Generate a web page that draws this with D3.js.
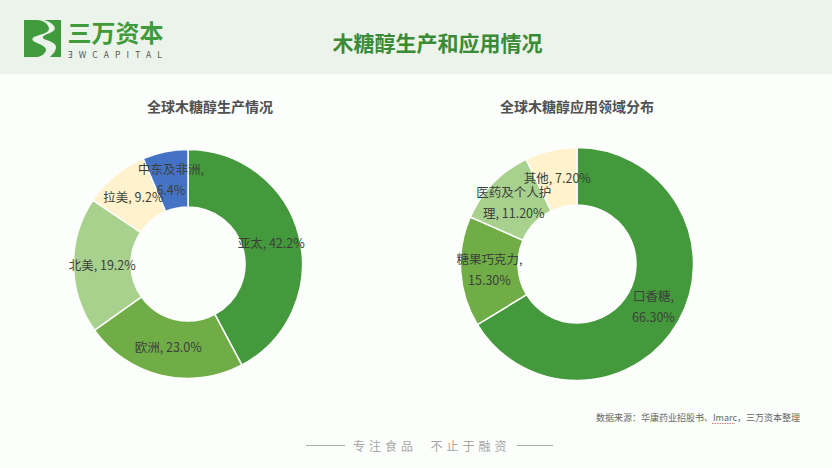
<!DOCTYPE html>
<html lang="zh">
<head>
    <meta charset="UTF-8">
    <title>木糖醇生产和应用情况</title>
    <style>
        html,body{margin:0;padding:0;background:#fcfefc;overflow:hidden;}
        text{font-family:"Noto Sans CJK SC","Noto Sans",sans-serif;}
        .label{fill:#3c423a;font-size:12.5px;text-anchor:middle;}
        .chartTitle{fill:#505050;font-size:14px;font-weight:700;text-anchor:middle;}
    </style>
    <script src="https://cdn.jsdelivr.net/npm/d3@7"></script>
</head>
<body>
    <script>
        // 全球木糖醇生产情况
        var prodNames = ["亚太","欧洲","北美","拉美","中东及非洲"];
        var prodValues = [42.2,23.0,19.2,9.2,6.4];
        var prodLabels = [["亚太, 42.2%"],["欧洲, 23.0%"],["北美, 19.2%"],["拉美, 9.2%"],["中东及非洲,","6.4%"]];
        var prodColors = ["#43993b","#70ad47","#a9d18e","#fff2cc","#4472c4"];

        // 全球木糖醇应用领域分布
        var useNames = ["口香糖","糖果巧克力","医药及个人护理","其他"];
        var useValues = [66.3,15.3,11.2,7.2];
        var useLabels = [["口香糖,","66.30%"],["糖果巧克力,","15.30%"],["医药及个人护","理, 11.20%"],["其他, 7.20%"]];
        var useColors = ["#43993b","#70ad47","#a9d18e","#fff2cc"];

        var width = 832;
        var height = 468;
        var svg = d3.select("body").append("svg")
                .attr("width",width)
                .attr("height",height)
                .style("display","block");

        // 顶部色带
        svg.append("rect").attr("width",width).attr("height",74).attr("fill","#ebf3ea");

        // logo
        var logo = svg.append("g").attr("fill","#3f9b3c");
        logo.append("path").attr("d","M24,20H37C43,20 49,24 49,29C49,33 41,34 34,37C31,39 32,41 37,43C42,45 46,47 46,50C46,53 41,57 37,57H24Z");
        logo.append("path").attr("d","M44,20H61V57H50C53,54 56,51 56,47C56,43 49,41 44,39C41,37 44,35 50,33C54,31 56,29 54,26C52,23 48,21 44,20Z");
        svg.append("text").attr("x",67.5).attr("y",42)
                .attr("fill","#3f9b3c").style("font-size","24px").style("font-weight",700)
                .text("三万资本");
        svg.append("text").attr("x",68).attr("y",57.5)
                .attr("fill","#555").style("font-size","8.5px").style("letter-spacing","6.1px")
                .text("ƎWCAPITAL");

        svg.append("text").attr("x",437.5).attr("y",51)
                .attr("fill","#3b8a35").attr("text-anchor","middle")
                .style("font-size","21px").style("font-weight",700)
                .text("木糖醇生产和应用情况");

        svg.append("text").attr("class","chartTitle").attr("x",210).attr("y",111.5).text("全球木糖醇生产情况");
        svg.append("text").attr("class","chartTitle").attr("x",577).attr("y",111.5).text("全球木糖醇应用领域分布");

        function drawDonut(cx,cy,outer,inner,values,labels,colors){
            var g = svg.append("g").attr("transform","translate("+cx+","+cy+")");
            var pie = d3.pie().sort(null).value(function(d){return d;});
            var arc = d3.arc().innerRadius(inner).outerRadius(outer);
            var arcs = pie(values);

            g.selectAll("path")
                .data(arcs)
                .enter()
                .append("path")
                .attr("d",arc)
                .attr("fill",function(d,i){return colors[i];})
                .attr("stroke","#fcfefc")
                .attr("stroke-width",1.5);

            // 标签放在扇区中心, 两行的上下分开
            var lineH = 21;
            g.selectAll(".label")
                .data(arcs)
                .enter()
                .append("text")
                .attr("class","label")
                .each(function(d,i){
                    var c = arc.centroid(d);
                    var lines = labels[i];
                    var t = d3.select(this);
                    lines.forEach(function(s,j){
                        t.append("tspan")
                            .attr("x",c[0])
                            .attr("y",c[1]+4.5+(j-(lines.length-1)/2)*lineH)
                            .text(s);
                    });
                });
        }

        drawDonut(188,264,114.5,57,prodValues,prodLabels,prodColors);
        drawDonut(577,264,116.5,59,useValues,useLabels,useColors);

        // 来源
        svg.append("text").attr("x",800).attr("y",421)
                .attr("fill","#666").attr("text-anchor","end")
                .style("font-size","9px")
                .text("数据来源：华康药业招股书、Imarc，三万资本整理");
        svg.append("line").attr("x1",712).attr("x2",735).attr("y1",423.5).attr("y2",423.5)
                .attr("stroke","#d9534f").attr("stroke-width",0.8).attr("stroke-dasharray","1.5,1");

        // 底部
        svg.append("text").attr("x",353).attr("y",451)
                .attr("fill","#a6a6a6")
                .style("font-size","12px").style("letter-spacing","4px")
                .style("white-space","pre")
                .text("专注食品  不止于融资");
        svg.append("line").attr("x1",306).attr("x2",345).attr("y1",445.5).attr("y2",445.5).attr("stroke","#aaa");
        svg.append("line").attr("x1",517).attr("x2",553).attr("y1",445.5).attr("y2",445.5).attr("stroke","#aaa");
    </script>
</body>
</html>
